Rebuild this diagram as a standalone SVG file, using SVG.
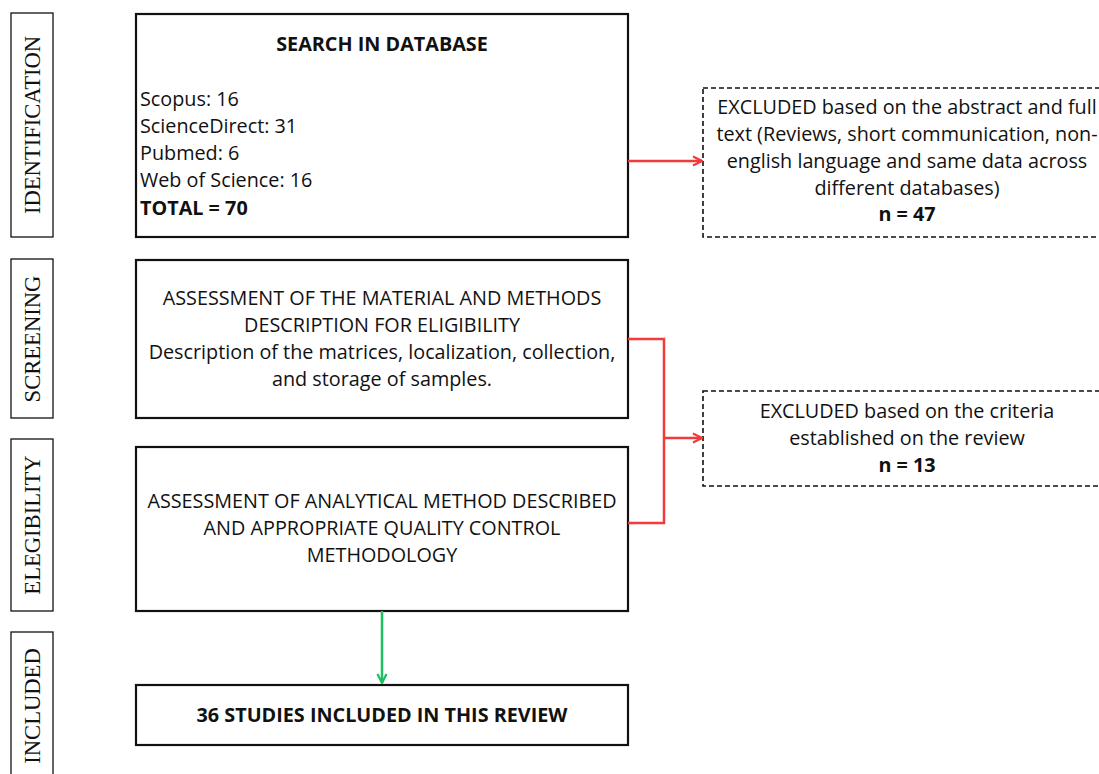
<svg xmlns="http://www.w3.org/2000/svg" width="1099" height="774" viewBox="0 0 1099 774">
<defs>
<style>
.box{fill:#fff;stroke:#111;stroke-width:2.2}
.lab{fill:#fff;stroke:#111;stroke-width:1.3}
.dash{fill:#fff;stroke:#111;stroke-width:1.6;stroke-dasharray:5,3}
.t{font-family:"Open Sans","Noto Sans",sans-serif;font-size:19.8px;fill:#111}
.c{text-anchor:middle}
.b{font-weight:bold}
.v{font-family:"Liberation Serif","Times New Roman",serif;font-size:22.6px;fill:#111;text-anchor:middle}
.red{fill:none;stroke:#f23a3a;stroke-width:2.5}
.grn{fill:none;stroke:#1cbf62;stroke-width:2.5}
</style>
<marker id="ar" viewBox="0 0 10 10" refX="9" refY="5" markerWidth="4.5" markerHeight="4.5" orient="auto" markerUnits="strokeWidth"><path d="M1,1 L9,5 L1,9" fill="none" stroke="#f23a3a" stroke-width="2"/></marker>
<marker id="ag" viewBox="0 0 10 10" refX="9" refY="5" markerWidth="4.5" markerHeight="4.5" orient="auto" markerUnits="strokeWidth"><path d="M1,1 L9,5 L1,9" fill="none" stroke="#1cbf62" stroke-width="2"/></marker>
</defs>
<rect width="1099" height="774" fill="#fff"/>
<g id="lab-identification"><rect class="lab" x="11" y="13" width="42" height="224"/><text class="v" transform="translate(40,125) rotate(-90)">IDENTIFICATION</text></g>
<g id="lab-screening"><rect class="lab" x="11" y="259" width="42" height="159"/><text class="v" transform="translate(40,339) rotate(-90)">SCREENING</text></g>
<g id="lab-elegibility"><rect class="lab" x="11" y="439" width="42" height="172"/><text class="v" transform="translate(40,525) rotate(-90)">ELEGIBILITY</text></g>
<g id="lab-included"><rect class="lab" x="11" y="632" width="42" height="150"/><text class="v" transform="translate(40,706) rotate(-90)">INCLUDED</text></g>
<g id="search"><rect class="box" x="136" y="14" width="492" height="223"/>
<text class="t c b" x="382" y="51">SEARCH IN DATABASE</text>
<text class="t" x="140" y="106">Scopus: 16</text>
<text class="t" x="140" y="133">ScienceDirect: 31</text>
<text class="t" x="140" y="160">Pubmed: 6</text>
<text class="t" x="140" y="187">Web of Science: 16</text>
<text class="t b" x="140" y="215">TOTAL = 70</text></g>
<g id="screening"><rect class="box" x="136" y="260" width="492" height="158"/>
<text class="t c" x="382" y="305">ASSESSMENT OF THE MATERIAL AND METHODS</text>
<text class="t c" x="382" y="332">DESCRIPTION FOR ELIGIBILITY</text>
<text class="t c" x="382" y="359">Description of the matrices, localization, collection,</text>
<text class="t c" x="382" y="386">and storage of samples.</text></g>
<g id="elegibility"><rect class="box" x="136" y="447" width="492" height="164"/>
<text class="t c" x="382" y="508">ASSESSMENT OF ANALYTICAL METHOD DESCRIBED</text>
<text class="t c" x="382" y="535">AND APPROPRIATE QUALITY CONTROL</text>
<text class="t c" x="382" y="562">METHODOLOGY</text></g>
<g id="included"><rect class="box" x="136" y="685" width="492" height="60"/>
<text class="t c b" x="382" y="722">36 STUDIES INCLUDED IN THIS REVIEW</text></g>
<g id="excluded1"><rect class="dash" x="703" y="88" width="410" height="149"/>
<text class="t c" x="907" y="114">EXCLUDED based on the abstract and full</text>
<text class="t c" x="907" y="141">text (Reviews, short communication, non-</text>
<text class="t c" x="907" y="168">english language and same data across</text>
<text class="t c" x="907" y="195">different databases)</text>
<text class="t c b" x="907" y="221">n = 47</text></g>
<g id="excluded2"><rect class="dash" x="703" y="391" width="410" height="95"/>
<text class="t c" x="907" y="418">EXCLUDED based on the criteria</text>
<text class="t c" x="907" y="445">established on the review</text>
<text class="t c b" x="907" y="472">n = 13</text></g>
<g id="connectors">
<path class="red" d="M628,161 H702" marker-end="url(#ar)"/>
<path class="red" d="M628,339 H664 V523 H628"/>
<path class="red" d="M664,438 H702" marker-end="url(#ar)"/>
<path class="grn" d="M382,611 V683" marker-end="url(#ag)"/>
</g>
</svg>
